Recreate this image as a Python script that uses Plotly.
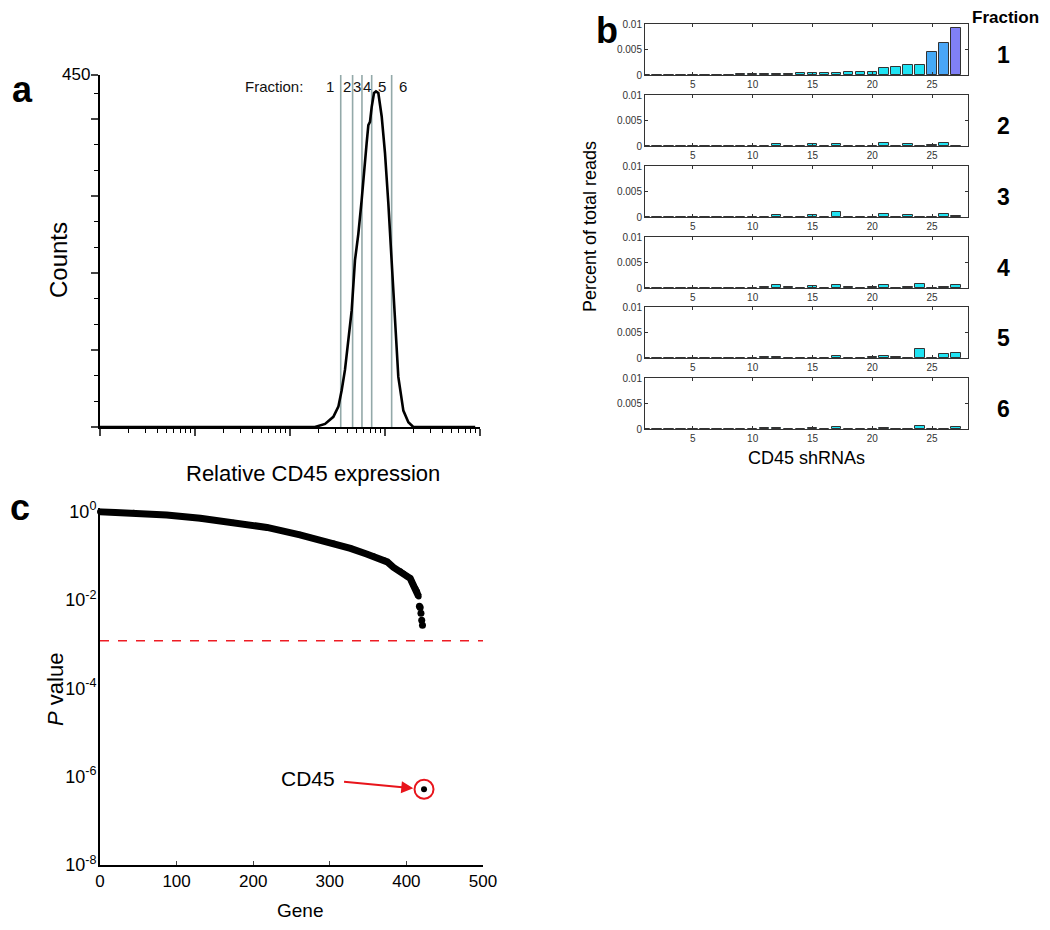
import math
import plotly.graph_objects as go

W, H = 1050, 930
OFF = 8  # page body margin shifts the figure by this many pixels

# ---- panel a: CD45 histogram ----
flu_x = [1, 183, 234, 286, 323, 350, 379, 411, 446, 483, 524, 568, 601, 641, 668, 695,
         724, 766, 804, 851, 923, 1000, 1084, 1175, 1274, 1381, 1560, 1762, 1987, 8900]
flu_counts = [0, 0, 4, 13, 26, 47, 73, 107, 149, 213, 247, 290, 328, 363, 386, 390,
              409, 427, 429, 427, 397, 350, 286, 213, 136, 64, 21, 6, 0, 0]
gate_edges = [202, 342, 456, 572, 724, 1175, 2018]
gate_labels = ["1", "2", "3", "4", "5", "6"]

# ---- panel b: shRNA read fractions (shRNA 1..27) ----
shrna_ids = list(range(1, 28))
frac1 = [0.00001, 0.00001, 0.00002, 0.00003, 0.00004, 0.00005, 0.00006, 0.00008, 0.0001, 0.0001,
         0.00015, 0.00025, 0.00028, 0.0003, 0.0003, 0.00045, 0.00045, 0.0005, 0.0006, 0.00065,
         0.0013, 0.0015, 0.0019, 0.0019, 0.0046, 0.0062, 0.0092]
frac2 = [0, 0, 0.00003, 0, 0, 0, 0, 0, 0, 0,
         0, 0.0003, 0, 0, 0.0003, 0, 0.00045, 0, 0, 0,
         0.00065, 0.00005, 0.0004, 0, 0.0001, 0.0005, 0.00005]
frac3 = [0, 0.00002, 0.00002, 0.00002, 0, 0, 0, 0, 0, 0,
         0, 0.0004, 0, 0, 0.0004, 0, 0.001, 0, 0, 0,
         0.0005, 0.00005, 0.0004, 0.00005, 0, 0.0005, 0.0002]
frac4 = [0, 0.00002, 0, 0, 0, 0.00002, 0, 0, 0, 0,
         0.00025, 0.0006, 0.0002, 0, 0.0004, 0, 0.0005, 0.00012, 0, 0.0001,
         0.0005, 0, 0.0001, 0.0008, 0, 0.00025, 0.0005]
frac5 = [0, 0, 0.00002, 0, 0, 0.00005, 0, 0.00002, 0, 0,
         0.0002, 0.0001, 0, 0, 0, 0, 0.0004, 0, 0, 0.0001,
         0.0004, 0.0002, 0, 0.0018, 0, 0.0007, 0.001]
frac6 = [0, 0, 0.00002, 0, 0, 0.00002, 0, 0.00002, 0, 0,
         0.0002, 0.0002, 0, 0, 0.0002, 0, 0.0004, 0, 0, 0,
         0.00025, 0.00005, 0, 0.0005, 0, 0.00005, 0.0004]
fractions = [frac1, frac2, frac3, frac4, frac5, frac6]
fraction_names = ["1", "2", "3", "4", "5", "6"]
frac1_colors = ["#1fe3f3"] * 24 + ["#45a9f6", "#4aa6f7", "#8080f6"]

# ---- panel c: gene P values ----
gene_rank = [0, 44, 87, 131, 174, 218, 261, 305, 327, 348, 357, 370, 375, 383, 392, 396,
             401, 405, 407, 409, 412, 414, 416]
gene_p = [1.0, 0.95, 0.84, 0.71, 0.56, 0.44, 0.30, 0.19, 0.148, 0.11, 0.098, 0.081, 0.073,
          0.055, 0.045, 0.040, 0.034, 0.031, 0.026, 0.022, 0.018, 0.0155, 0.012]
tail_rank = [417, 418, 419, 420, 421]
tail_p = [0.0072, 0.0068, 0.005, 0.0035, 0.0027]
cd45_rank = 423
cd45_p = 5.2e-7
p_threshold = 1.2e-3
p_ticks = [1, 1e-2, 1e-4, 1e-6, 1e-8]
p_ticktext = ["10<sup>0</sup>", "10<sup>-2</sup>", "10<sup>-4</sup>", "10<sup>-6</sup>", "10<sup>-8</sup>"]

FONT = "Liberation Sans, Arial, sans-serif"


def xd(a, b):
    return [(a - OFF) / W, (b - OFF) / W]


def yd(top, bottom):
    return [1 - (bottom - OFF) / H, 1 - (top - OFF) / H]


def label(fig, text, px, py, size, angle=0, **kw):
    fig.add_annotation(x=(px - OFF) / W, y=1 - (py - OFF) / H, xref="paper", yref="paper",
                       text=text, xanchor="center", yanchor="middle", textangle=angle,
                       showarrow=False, font=dict(family=FONT, size=size, color="black"), **kw)


fig = go.Figure()

# panel a
fig.add_trace(go.Scatter(x=flu_x, y=flu_counts, mode="lines",
                         line=dict(color="black", width=2.6), xaxis="x", yaxis="y",
                         showlegend=False))
for e in gate_edges[1:-1]:
    fig.add_shape(type="line", xref="x", yref="y domain", x0=e, x1=e, y0=0, y1=1,
                  line=dict(color="#93a9a9", width=1.6), layer="below")
for i, lab in enumerate(gate_labels):
    mid = math.log10(gate_edges[i] * gate_edges[i + 1]) / 2
    fig.add_annotation(x=mid, y=0.968, xref="x", yref="y domain", text=lab, showarrow=False,
                       xanchor="center", yanchor="middle",
                       font=dict(family=FONT, size=15, color="#111"))
fig.add_annotation(x=math.log10(gate_edges[0]) - 0.15, y=0.968, xref="x", yref="y domain",
                   text="Fraction:", xanchor="right", yanchor="middle", showarrow=False,
                   font=dict(family=FONT, size=15, color="#111"))

step = 450 * 77 / 352
ytv = [step * k for k in range(5)] + [450]
layout = dict(
    xaxis=dict(domain=xd(100, 480), type="log", range=[0, 4], dtick=1, showticklabels=False,
               ticks="outside", ticklen=7, tickwidth=1.5, showline=True, linewidth=2.2,
               linecolor="black", showgrid=False, zeroline=False, automargin=False,
               minor=dict(dtick="D1", ticks="outside", ticklen=4, tickwidth=1, tickcolor="black"),
               anchor="y"),
    yaxis=dict(domain=yd(75, 427), range=[0, 450], tickmode="array", tickvals=ytv,
               showticklabels=False, ticks="outside", ticklen=7, tickwidth=1.5, automargin=False,
               showline=True, linewidth=1.8, linecolor="black", showgrid=False, zeroline=False,
               minor=dict(tickmode="array", tickvals=[step * k / 3 for k in range(1, 15) if k % 3],
                          ticks="outside", ticklen=4, tickwidth=1, tickcolor="black"),
               anchor="x"),
)
fig.add_annotation(x=0, y=450, xref="x domain", yref="y", text="450", xanchor="right",
                   yanchor="middle", xshift=-8, showarrow=False,
                   font=dict(family=FONT, size=17, color="black"))
label(fig, "Counts", 58, 260, 24, angle=-90)
label(fig, "Relative CD45 expression", 313, 473, 22)

# panel b
tops = [24, 95, 166, 237, 307, 378]
for k, vals in enumerate(fractions):
    n = k + 2
    colors = frac1_colors if k == 0 else ["#1fe3f3"] * len(vals)
    fig.add_trace(go.Bar(x=shrna_ids, y=vals, width=0.8, marker=dict(color=colors,
                         line=dict(color="#333333", width=1)), xaxis=f"x{n}", yaxis=f"y{n}",
                         showlegend=False))
    layout[f"xaxis{n}"] = dict(domain=xd(645, 968), range=[1, 28], tickvals=[5, 10, 15, 20, 25],
                               ticks="inside", ticklen=3, tickcolor="#333", mirror="ticks",
                               showline=True, linewidth=1, linecolor="#333", showgrid=False,
                               zeroline=False, automargin=False,
                               tickfont=dict(family=FONT, size=10, color="#333"),
                               anchor=f"y{n}")
    layout[f"yaxis{n}"] = dict(domain=yd(tops[k], tops[k] + 51), range=[0, 0.01],
                               tickvals=[0, 0.005, 0.01], ticktext=["0", "0.005", "0.01"],
                               ticks="inside", ticklen=3, tickcolor="#333", mirror="ticks",
                               showline=True, linewidth=1, linecolor="#333", showgrid=False,
                               zeroline=False, automargin=False,
                               tickfont=dict(family=FONT, size=10, color="#333"),
                               anchor=f"x{n}")
    label(fig, f"<b>{fraction_names[k]}</b>", 1003, tops[k] + 31, 23)

label(fig, "<b>Fraction</b>", 1005, 18, 17)
label(fig, "Percent of total reads", 590, 227, 18, angle=-90)
label(fig, "CD45 shRNAs", 806, 458, 18)

# panel c
fig.add_trace(go.Scatter(x=gene_rank, y=gene_p, mode="lines+markers",
                         line=dict(color="black", width=7), marker=dict(color="black", size=6),
                         xaxis="x8", yaxis="y8", showlegend=False, cliponaxis=False))
fig.add_trace(go.Scatter(x=tail_rank, y=tail_p, mode="markers", marker=dict(color="black", size=7),
                         xaxis="x8", yaxis="y8", showlegend=False, cliponaxis=False))
fig.add_trace(go.Scatter(x=[cd45_rank], y=[cd45_p], mode="markers",
                         marker=dict(color="black", size=6), xaxis="x8", yaxis="y8", showlegend=False))
fig.add_trace(go.Scatter(x=[cd45_rank], y=[cd45_p], mode="markers",
                         marker=dict(color="rgba(0,0,0,0)", size=19, line=dict(color="#e8141b", width=2)),
                         xaxis="x8", yaxis="y8", showlegend=False))
fig.add_shape(type="line", xref="x8", yref="y8", x0=0, x1=500, y0=p_threshold, y1=p_threshold,
              line=dict(color="#ee1c24", width=1.6, dash="dash"))
lp = math.log10(cd45_p)
fig.add_annotation(x=cd45_rank - 14, y=lp + 0.02, xref="x8", yref="y8", ax=cd45_rank - 152,
                   ay=lp + 0.25, axref="x8", ayref="y8", text="CD45", showarrow=True,
                   standoff=0, startstandoff=8,
                   arrowhead=2, arrowsize=1.2, arrowwidth=2, arrowcolor="#e8141b",
                   font=dict(family=FONT, size=21, color="black"))

top_pad = 0.08  # decades of headroom so the thick curve is not clipped at p = 1
layout["xaxis8"] = dict(domain=xd(100, 483), range=[0, 500], dtick=100, ticks="inside", ticklen=4,
                        showline=True, linewidth=2, linecolor="black", showgrid=False, zeroline=False,
                        automargin=False, tickfont=dict(family=FONT, size=17, color="black"),
                        anchor="y8")
layout["yaxis8"] = dict(domain=yd(511.7 - 44.2 * top_pad, 865), type="log", range=[-8, top_pad],
                        tickvals=p_ticks, ticktext=p_ticktext, ticks="", ticklabelstandoff=-2,
                        showline=True, linewidth=2, linecolor="black",
                        showgrid=False, zeroline=False, automargin=False,
                        tickfont=dict(family=FONT, size=18, color="black"),
                        anchor="x8")
label(fig, "<i>P</i> value", 55, 690, 22, angle=-90)
label(fig, "Gene", 300, 910, 19)

# panel letters
label(fig, "<b>a</b>", 22, 90, 36)
label(fig, "<b>b</b>", 607, 30, 36)
label(fig, "<b>c</b>", 20, 508, 36)

fig.update_layout(width=W, height=H, autosize=False, margin=dict(l=0, r=0, t=0, b=0),
                  paper_bgcolor="white", plot_bgcolor="white", bargap=0, **layout)

fig.write_html("out.html")
